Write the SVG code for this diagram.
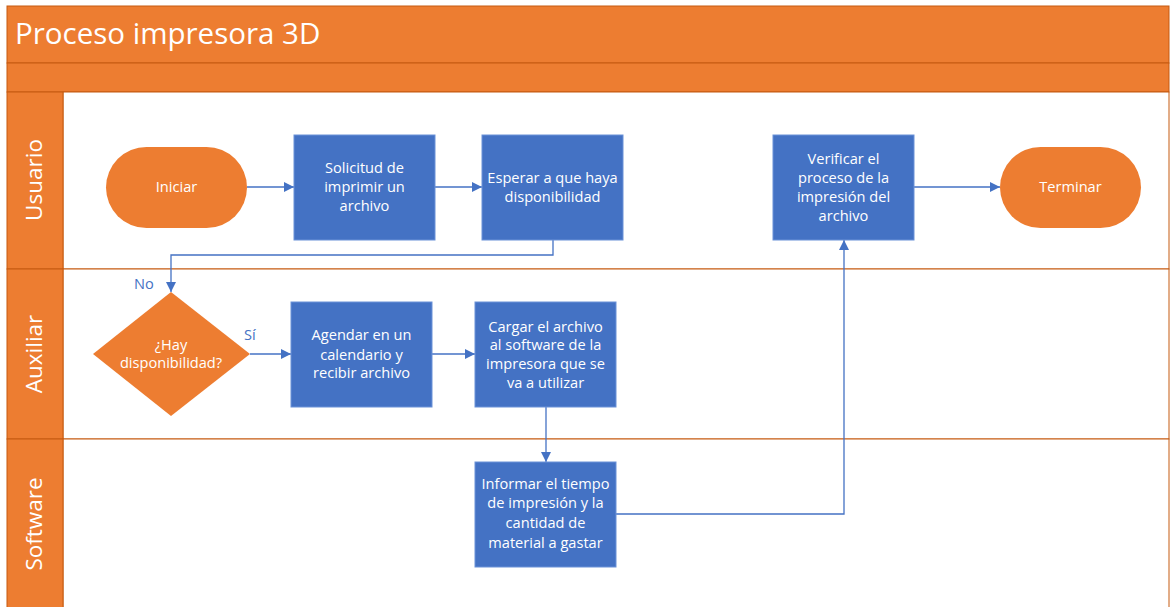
<svg xmlns="http://www.w3.org/2000/svg" width="1170" height="607" viewBox="0 0 1170 607">
<defs>
<style>
.band{fill:#ED7D31;stroke:#C55A11;stroke-width:1}
.lane{fill:#FFFFFF;stroke:#C55A11;stroke-width:1}
.title{font-family:"Open Sans","Noto Sans",sans-serif;font-size:29.5px;fill:#FFFFFF}
.lanelbl{font-family:"Open Sans","Noto Sans",sans-serif;font-size:22.5px;fill:#FFFFFF;text-anchor:middle}
.proc{fill:#4472C4;stroke:#6A92D8;stroke-width:1}
.term{fill:#ED7D31}
.t{font-family:"Open Sans","Noto Sans",sans-serif;font-size:14.6px;fill:#FFFFFF;text-anchor:middle}
.conn{fill:none;stroke:#4472C4;stroke-width:1.3}
.lbl{font-family:"Open Sans","Noto Sans",sans-serif;font-size:14.6px;fill:#4472C4}
</style>
<marker id="arr" viewBox="0 0 10 10" refX="10" refY="5" markerWidth="10" markerHeight="10" markerUnits="userSpaceOnUse" orient="auto">
<path d="M0,0 L10,5 L0,10 Z" fill="#4472C4"/>
</marker>
</defs>
<rect width="1170" height="607" fill="#FFFFFF"/>
<g id="pool">
<rect class="band" x="7" y="6" width="1162" height="57"/>
<text class="title" x="15" y="44">Proceso impresora 3D</text>
<rect class="band" x="7" y="63" width="1162" height="29"/>
</g>
<g id="lane-usuario">
<rect class="lane" x="63" y="92" width="1106" height="177"/>
<rect class="band" x="7" y="92" width="56" height="177"/>
<text class="lanelbl" transform="translate(42,180) rotate(-90)">Usuario</text>
</g>
<g id="lane-auxiliar">
<rect class="lane" x="63" y="269" width="1106" height="170"/>
<rect class="band" x="7" y="269" width="56" height="170"/>
<text class="lanelbl" transform="translate(42,354) rotate(-90)">Auxiliar</text>
</g>
<g id="lane-software">
<rect class="lane" x="63" y="439" width="1106" height="175"/>
<rect class="band" x="7" y="439" width="56" height="175"/>
<text class="lanelbl" transform="translate(42,524) rotate(-90)">Software</text>
</g>
<g id="connectors">
<path class="conn" d="M247,187 H294" marker-end="url(#arr)"/>
<path class="conn" d="M435,187 H482" marker-end="url(#arr)"/>
<path class="conn" d="M553,240 V255 H171 V292" marker-end="url(#arr)"/>
<path class="conn" d="M250,354 H291" marker-end="url(#arr)"/>
<path class="conn" d="M432,354 H475" marker-end="url(#arr)"/>
<path class="conn" d="M546,407 V462" marker-end="url(#arr)"/>
<path class="conn" d="M616,514 H844 V240" marker-end="url(#arr)"/>
<path class="conn" d="M914,187 H1000" marker-end="url(#arr)"/>
<text class="lbl" x="134" y="289">No</text>
<text class="lbl" x="244" y="340">Sí</text>
</g>
<g id="iniciar">
<rect class="term" x="106" y="147" width="141" height="81" rx="40.5"/>
<text class="t" x="176.5" y="192">Iniciar</text>
</g>
<g id="solicitud">
<rect class="proc" x="294" y="135" width="141" height="105"/>
<text class="t" x="364.5" y="173">Solicitud de</text>
<text class="t" x="364.5" y="192">imprimir un</text>
<text class="t" x="364.5" y="211">archivo</text>
</g>
<g id="esperar">
<rect class="proc" x="482" y="135" width="141" height="105"/>
<text class="t" x="552.5" y="183">Esperar a que haya</text>
<text class="t" x="552.5" y="202">disponibilidad</text>
</g>
<g id="verificar">
<rect class="proc" x="773" y="135" width="141" height="105"/>
<text class="t" x="843.5" y="164">Verificar el</text>
<text class="t" x="843.5" y="183">proceso de la</text>
<text class="t" x="843.5" y="202">impresión del</text>
<text class="t" x="843.5" y="221">archivo</text>
</g>
<g id="terminar">
<rect class="term" x="1000" y="147" width="141" height="81" rx="40.5"/>
<text class="t" x="1070.5" y="192">Terminar</text>
</g>
<g id="decision">
<path class="term" d="M171,292 L250,354 L171,416 L93,354 Z"/>
<text class="t" x="171" y="350">¿Hay</text>
<text class="t" x="171" y="368">disponibilidad?</text>
</g>
<g id="agendar">
<rect class="proc" x="291" y="302" width="141" height="105"/>
<text class="t" x="361.5" y="340">Agendar en un</text>
<text class="t" x="361.5" y="360">calendario y</text>
<text class="t" x="361.5" y="378">recibir archivo</text>
</g>
<g id="cargar">
<rect class="proc" x="475" y="302" width="141" height="105"/>
<text class="t" x="545.5" y="332">Cargar el archivo</text>
<text class="t" x="545.5" y="350">al software de la</text>
<text class="t" x="545.5" y="369">impresora que se</text>
<text class="t" x="545.5" y="388">va a utilizar</text>
</g>
<g id="informar">
<rect class="proc" x="475" y="462" width="141" height="105"/>
<text class="t" x="545.5" y="489">Informar el tiempo</text>
<text class="t" x="545.5" y="508">de impresión y la</text>
<text class="t" x="545.5" y="528">cantidad de</text>
<text class="t" x="545.5" y="548">material a gastar</text>
</g>
</svg>
